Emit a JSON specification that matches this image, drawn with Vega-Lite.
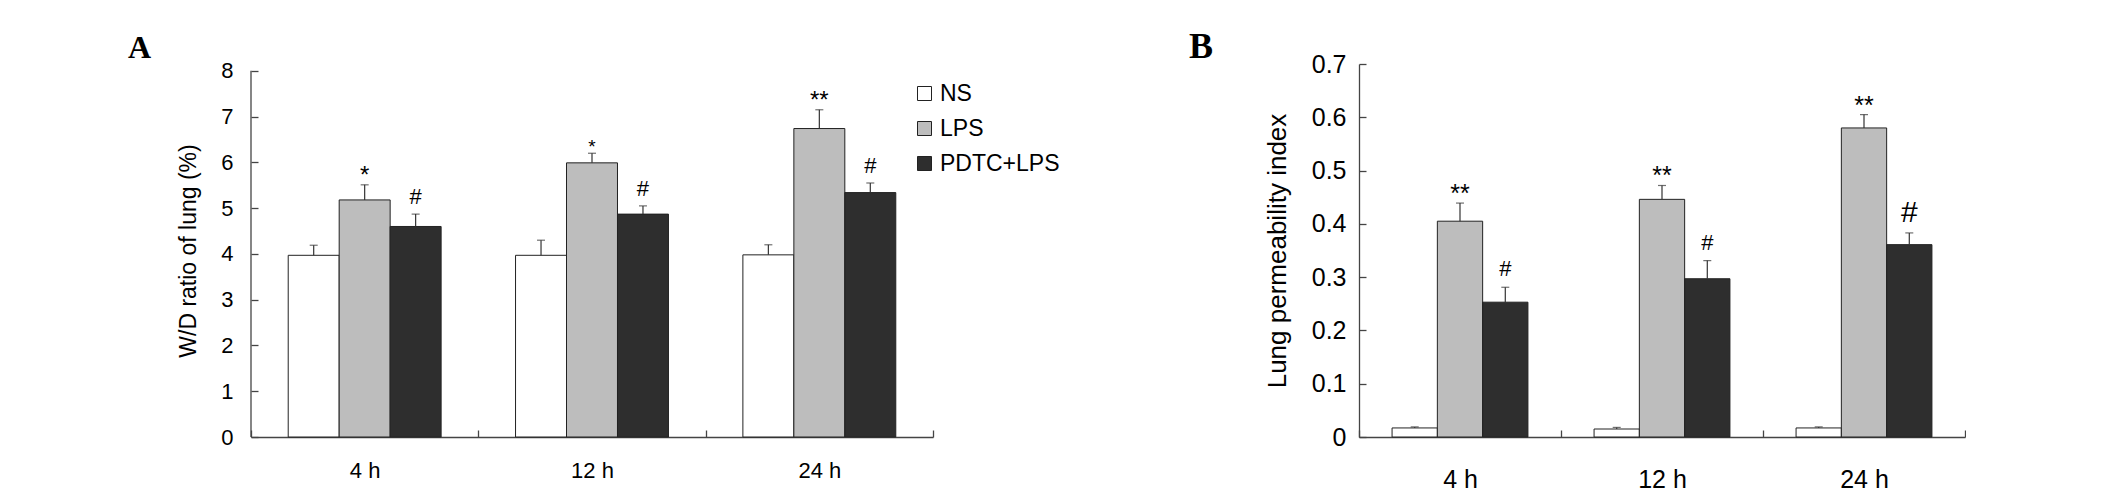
{
  "$schema": "https://vega.github.io/schema/vega-lite/v6.json",
  "background": "white",
  "autosize": {"type": "pad"},
  "padding": {"left": 128, "top": 29, "right": 0, "bottom": 0},
  "config": {
    "view": {"stroke": null},
    "font": "Liberation Sans",
    "axis": {"grid": false, "domainColor": "#444444", "tickColor": "#444444", "domainWidth": 1.3, "tickWidth": 1.3, "labelColor": "#000000", "titleColor": "#000000", "labelFont": "Liberation Sans", "titleFont": "Liberation Sans", "titleFontWeight": "normal"}
  },
  "datasets": {
    "A": [
      {"time": "4 h", "group": "NS", "mean": 3.97, "upper": 4.19, "sig": ""},
      {"time": "4 h", "group": "LPS", "mean": 5.18, "upper": 5.51, "sig": "*"},
      {"time": "4 h", "group": "PDTC+LPS", "mean": 4.60, "upper": 4.87, "sig": "#"},
      {"time": "12 h", "group": "NS", "mean": 3.97, "upper": 4.30, "sig": ""},
      {"time": "12 h", "group": "LPS", "mean": 5.99, "upper": 6.20, "sig": "*"},
      {"time": "12 h", "group": "PDTC+LPS", "mean": 4.87, "upper": 5.05, "sig": "#"},
      {"time": "24 h", "group": "NS", "mean": 3.98, "upper": 4.20, "sig": ""},
      {"time": "24 h", "group": "LPS", "mean": 6.74, "upper": 7.15, "sig": "**"},
      {"time": "24 h", "group": "PDTC+LPS", "mean": 5.34, "upper": 5.55, "sig": "#"}
    ],
    "B": [
      {"time": "4 h", "group": "NS", "mean": 0.017, "upper": 0.019, "sig": ""},
      {"time": "4 h", "group": "LPS", "mean": 0.405, "upper": 0.439, "sig": "**"},
      {"time": "4 h", "group": "PDTC+LPS", "mean": 0.253, "upper": 0.281, "sig": "#"},
      {"time": "12 h", "group": "NS", "mean": 0.015, "upper": 0.018, "sig": ""},
      {"time": "12 h", "group": "LPS", "mean": 0.446, "upper": 0.472, "sig": "**"},
      {"time": "12 h", "group": "PDTC+LPS", "mean": 0.297, "upper": 0.331, "sig": "#"},
      {"time": "24 h", "group": "NS", "mean": 0.017, "upper": 0.019, "sig": ""},
      {"time": "24 h", "group": "LPS", "mean": 0.580, "upper": 0.605, "sig": "**"},
      {"time": "24 h", "group": "PDTC+LPS", "mean": 0.361, "upper": 0.383, "sig": "#"}
    ]
  },
  "spacing": 129,
  "resolve": {"scale": {"color": "independent", "fill": "independent", "y": "independent", "x": "independent", "xOffset": "independent"}},
  "hconcat": [
    {
      "width": 682,
      "height": 373,
      "title": {"text": "A", "anchor": "start", "frame": "group", "dx": -123, "offset": -5, "font": "Liberation Serif", "fontWeight": "bold", "fontSize": 32, "color": "#000000"},
      "data": {"name": "A"},
      "encoding": {
        "x": {"field": "time", "type": "nominal", "sort": ["4 h", "12 h", "24 h"], "scale": {"paddingInner": 0, "paddingOuter": 0}, "title": null,
              "axis": {"labelAngle": 0, "labelFontSize": 22, "tickSize": -7, "labelPadding": 30, "tickBand": "extent"}},
        "xOffset": {"field": "group", "type": "nominal", "sort": ["NS", "LPS", "PDTC+LPS"], "scale": {"paddingInner": 0, "paddingOuter": 0.73}}
      },
      "layer": [
        {
          "mark": {"type": "bar", "stroke": "#222222", "strokeWidth": 1},
          "encoding": {
            "y": {"field": "mean", "type": "quantitative", "scale": {"domain": [0, 8.15], "nice": false}, "title": "W/D ratio of lung (%)",
                  "axis": {"values": [0, 1, 2, 3, 4, 5, 6, 7, 8], "tickSize": -7, "labelPadding": 25, "labelFontSize": 22, "titleFontSize": 23, "titlePadding": 20, "domain": false}},
            "fill": {"field": "group", "type": "nominal", "sort": ["NS", "LPS", "PDTC+LPS"], "scale": {"domain": ["NS", "LPS", "PDTC+LPS"], "range": ["#ffffff", "#bdbdbd", "#2e2e2e"]},
                     "legend": {"title": null, "orient": "none", "legendX": 662, "legendY": 18, "symbolType": "square", "symbolSize": 196, "symbolStrokeColor": "#222222", "symbolStrokeWidth": 1, "symbolOpacity": 1, "labelFontSize": 23, "labelFont": "Liberation Sans", "labelColor": "#000000", "labelOffset": 4, "rowPadding": 11, "padding": 0}}
          }
        },
        {
          "data": {"values": [{}]},
          "mark": {"type": "rule", "color": "#444444", "strokeWidth": 1.3},
          "encoding": {"x": {"datum": "4 h", "type": "nominal", "bandPosition": 0}, "xOffset": null, "y": {"datum": 0, "type": "quantitative"}, "y2": {"datum": 8}}
        },
        {
          "mark": {"type": "rule", "color": "#333333", "strokeWidth": 1.2},
          "encoding": {"y": {"field": "mean", "type": "quantitative"}, "y2": {"field": "upper"}}
        },
        {
          "mark": {"type": "tick", "color": "#333333", "size": 8, "thickness": 1.2},
          "encoding": {"y": {"field": "upper", "type": "quantitative"}}
        },
        {
          "transform": [{"filter": "datum.sig == '#'"}],
          "mark": {"type": "text", "fontSize": 22, "dy": -10, "baseline": "alphabetic", "align": "center", "color": "#000000"},
          "encoding": {"y": {"field": "upper", "type": "quantitative"}, "text": {"field": "sig"}}
        },
        {
          "transform": [{"filter": "(datum.sig == '*' || datum.sig == '**') && datum.time != '12 h'"}],
          "mark": {"type": "text", "fontSize": 24, "dy": -2, "baseline": "alphabetic", "align": "center", "color": "#000000"},
          "encoding": {"y": {"field": "upper", "type": "quantitative"}, "text": {"field": "sig"}}
        },
        {
          "transform": [{"filter": "datum.sig == '*' && datum.time == '12 h'"}],
          "mark": {"type": "text", "fontSize": 19, "dy": 0, "baseline": "alphabetic", "align": "center", "color": "#000000"},
          "encoding": {"y": {"field": "upper", "type": "quantitative"}, "text": {"field": "sig"}}
        }
      ]
    },
    {
      "width": 606,
      "height": 373,
      "title": {"text": "B", "anchor": "start", "frame": "group", "dx": -170, "offset": -14, "font": "Liberation Serif", "fontWeight": "bold", "fontSize": 36, "color": "#000000"},
      "data": {"name": "B"},
      "encoding": {
        "x": {"field": "time", "type": "nominal", "sort": ["4 h", "12 h", "24 h"], "scale": {"paddingInner": 0, "paddingOuter": 0}, "title": null,
              "axis": {"labelAngle": 0, "labelFontSize": 25, "tickSize": -7, "labelPadding": 37, "tickBand": "extent"}},
        "xOffset": {"field": "group", "type": "nominal", "sort": ["NS", "LPS", "PDTC+LPS"], "scale": {"paddingInner": 0, "paddingOuter": 0.73}}
      },
      "layer": [
        {
          "mark": {"type": "bar", "stroke": "#222222", "strokeWidth": 1},
          "encoding": {
            "y": {"field": "mean", "type": "quantitative", "scale": {"domain": [0, 0.7], "nice": false}, "title": "Lung permeability index",
                  "axis": {"values": [0, 0.1, 0.2, 0.3, 0.4, 0.5, 0.6, 0.7], "format": "~g", "tickSize": -7, "labelPadding": 20, "labelFontSize": 25, "titleFontSize": 26, "titlePadding": 21}},
            "fill": {"field": "group", "type": "nominal", "sort": ["NS", "LPS", "PDTC+LPS"], "scale": {"domain": ["NS", "LPS", "PDTC+LPS"], "range": ["#ffffff", "#bdbdbd", "#2e2e2e"]}, "legend": null}
          }
        },
        {
          "mark": {"type": "rule", "color": "#333333", "strokeWidth": 1.2},
          "encoding": {"y": {"field": "mean", "type": "quantitative"}, "y2": {"field": "upper"}}
        },
        {
          "mark": {"type": "tick", "color": "#333333", "size": 8, "thickness": 1.2},
          "encoding": {"y": {"field": "upper", "type": "quantitative"}}
        },
        {
          "transform": [{"filter": "datum.sig == '#' && datum.time != '24 h'"}],
          "mark": {"type": "text", "fontSize": 22, "dy": -11, "baseline": "alphabetic", "align": "center", "color": "#000000"},
          "encoding": {"y": {"field": "upper", "type": "quantitative"}, "text": {"field": "sig"}}
        },
        {
          "transform": [{"filter": "datum.sig == '#' && datum.time == '24 h'"}],
          "mark": {"type": "text", "fontSize": 30, "dy": -11, "baseline": "alphabetic", "align": "center", "color": "#000000"},
          "encoding": {"y": {"field": "upper", "type": "quantitative"}, "text": {"field": "sig"}}
        },
        {
          "transform": [{"filter": "datum.sig == '**'"}],
          "mark": {"type": "text", "fontSize": 25, "dy": -1, "baseline": "alphabetic", "align": "center", "color": "#000000"},
          "encoding": {"y": {"field": "upper", "type": "quantitative"}, "text": {"field": "sig"}}
        }
      ]
    }
  ]
}
